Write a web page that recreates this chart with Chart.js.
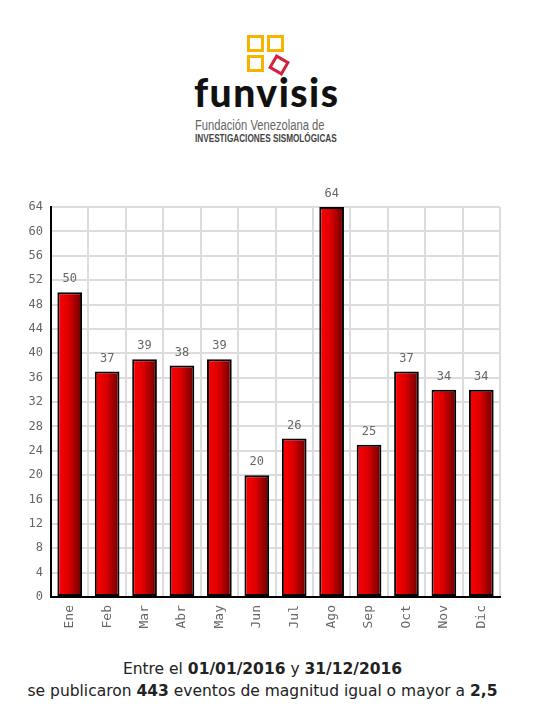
<!DOCTYPE html>
<html>
<head>
<meta charset="utf-8">
<script src="https://cdn.jsdelivr.net/npm/chart.js@4/dist/chart.umd.min.js"></script>
<style>
  html, body { margin: 0; padding: 0; background: #fff; width: 534px; height: 710px; overflow: hidden; position: relative; }
  .sq { position: absolute; width: 11px; height: 11px; border: 3px solid #f6b400; }
  .dm { position: absolute; width: 10px; height: 10px; border: 3px solid #d5213f; transform: rotate(30deg); }
  #brand { position: absolute; left: 194px; top: 73px; font-family: Lato, "Open Sans", sans-serif; font-weight: 900; font-size: 39px; letter-spacing: 1.5px; color: #111; line-height: 1; }
  #sub1 { position: absolute; left: 195px; top: 118px; font-family: "Liberation Sans", Arial, sans-serif; font-size: 14px; color: #666; transform: scaleX(0.8); transform-origin: left top; white-space: nowrap; line-height: 1; }
  #sub2 { position: absolute; left: 195px; top: 134px; font-family: "Liberation Sans", Arial, sans-serif; font-weight: 700; font-size: 10px; color: #444; transform: scaleX(0.82); transform-origin: left top; white-space: nowrap; line-height: 1; }
  #wrap { position: absolute; left: 0; top: 181px; width: 534px; height: 455px; }
  .foot { position: absolute; left: 0; width: 525px; text-align: center; font-family: "DejaVu Sans", sans-serif; font-size: 15.5px; color: #222; white-space: nowrap; }
</style>
</head>
<body>
<div class="sq" style="left:247px;top:35px"></div>
<div class="sq" style="left:267px;top:35px"></div>
<div class="sq" style="left:247px;top:55px"></div>
<div class="dm" style="left:271px;top:57px"></div>
<div id="brand">funvisis</div>
<div id="sub1">Fundación Venezolana de</div>
<div id="sub2">INVESTIGACIONES SISMOLÓGICAS</div>
<div id="wrap"><canvas id="c" width="534" height="455"></canvas></div>
<div class="foot" style="top:660px">Entre el <b>01/01/2016</b> y <b>31/12/2016</b></div>
<div class="foot" style="top:682px">se publicaron <b>443</b> eventos de magnitud igual o mayor a <b>2,5</b></div>
<script>
const months = ["Ene","Feb","Mar","Abr","May","Jun","Jul","Ago","Sep","Oct","Nov","Dic"];
const events = [50, 37, 39, 38, 39, 20, 26, 64, 25, 37, 34, 34];
const yMin = 0, yMax = 64, yStep = 4;

const barFrac = 0.66;

const valueLabels = {
  id: 'valueLabels',
  afterDatasetsDraw(chart) {
    const ctx = chart.ctx;
    const meta = chart.getDatasetMeta(0);
    ctx.save();
    ctx.font = '12px "DejaVu Sans Mono", monospace';
    ctx.fillStyle = '#666';
    ctx.textAlign = 'center';
    ctx.textBaseline = 'bottom';
    meta.data.forEach((bar, i) => {
      ctx.fillText(String(events[i]), bar.x, bar.y - 7);
    });
    ctx.restore();
  }
};

const chart = new Chart(document.getElementById('c'), {
  type: 'bar',
  data: {
    labels: months,
    datasets: [{
      data: events,
      backgroundColor: (c) => {
        const ch = c.chart;
        const xs = ch.scales && ch.scales.x;
        if (c.type !== 'data' || !xs) return '#d00000';
        const cx = xs.getPixelForValue(c.dataIndex);
        const hw = (xs.width / months.length) * barFrac / 2;
        if (!isFinite(cx) || !isFinite(hw) || hw <= 0) return '#d00000';
        const g = ch.ctx.createLinearGradient(cx - hw, 0, cx + hw, 0);
        g.addColorStop(0, '#ff0000');
        g.addColorStop(0.45, '#dd0000');
        g.addColorStop(1, '#6a0000');
        return g;
      },
      borderColor: '#000',
      borderWidth: 2,
      borderSkipped: false,
      barPercentage: barFrac,
      categoryPercentage: 1
    }]
  },
  options: {
    responsive: false,
    animation: false,
    events: [],
    layout: { padding: { top: 26, right: 34, left: 0, bottom: 0 } },
    plugins: { legend: { display: false }, tooltip: { enabled: false } },
    scales: {
      x: {
        offset: true,
        grid: { display: true, offset: true, color: '#dcdcdc', lineWidth: 2, drawTicks: false },
        border: { display: true, color: '#000', width: 2 },
        ticks: {
          minRotation: 90, maxRotation: 90, autoSkip: false, padding: 8,
          color: '#666', font: { family: '"DejaVu Sans Mono", monospace', size: 13 }
        },
        afterFit(scale) { scale.height = 39; }
      },
      y: {
        min: yMin, max: yMax,
        grid: { color: '#dcdcdc', lineWidth: 2, drawTicks: false },
        border: { display: true, color: '#000', width: 2 },
        ticks: {
          stepSize: yStep, padding: 8,
          color: '#666', font: { family: '"DejaVu Sans Mono", monospace', size: 12 }
        },
        afterFit(scale) { scale.width = 51; }
      }
    }
  },
  plugins: [valueLabels]
});
chart.update();
</script>
</body>
</html>
